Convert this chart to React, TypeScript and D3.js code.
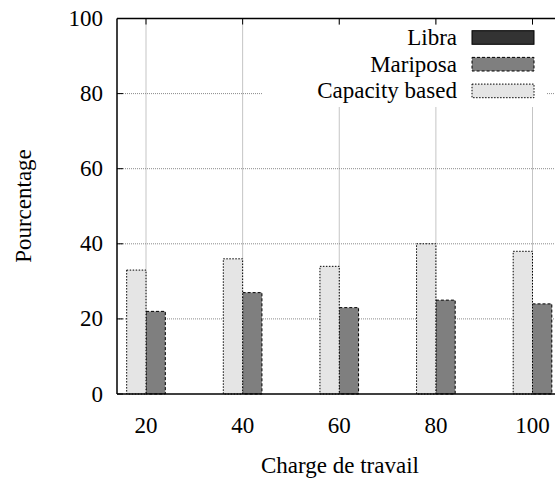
import React from "react";
import * as d3 from "d3";

const categories = [20, 40, 60, 80, 100];
const libra = [0, 0, 0, 0, 0];
const mariposa = [22, 27, 23, 25, 24];
const capacity = [33, 36, 34, 40, 38];
const yTicks = [0, 20, 40, 60, 80, 100];
const seriesNames = ["Libra", "Mariposa", "Capacity based"];

const W = 555;
const H = 480;
const FONT = "Liberation Serif, Times New Roman, Times, serif";

export default function App() {
  const left = 117;
  const top = 18.5;
  const bottom = 394;
  const right = 575;
  const x = d3.scaleLinear().domain([20, 100]).range([146, 532.5]);
  const y = d3.scaleLinear().domain([0, 100]).range([bottom, top]);
  const bw = (x(40) - x(20)) / 5;

  const styles = [
    { fill: "#333333", dash: undefined as string | undefined },
    { fill: "#7f7f7f", dash: "3,2" },
    { fill: "#e5e5e5", dash: "1.5,1.5" },
  ];
  const offsets = [bw, 0, -bw];
  const data = [libra, mariposa, capacity];

  const legendRows = [0, 1, 2].map((i) => 37.5 + i * 26.7);
  const ts: React.CSSProperties = { fontFamily: FONT, fontSize: "23px" };

  return (
    <svg
      width={W}
      height={H}
      style={{ position: "absolute", left: 0, top: 0, background: "#fff", fontFamily: FONT }}
    >
      <rect x={0} y={0} width={W} height={H} fill="#fff" />
      {yTicks.filter((t) => t > 0 && t < 100).map((t) => (
        <line key={"gy" + t} x1={left} x2={right} y1={y(t)} y2={y(t)} stroke="#8a8a8a" strokeWidth={1} strokeDasharray="1,1" />
      ))}
      {categories.map((c) => (
        <line key={"gx" + c} x1={x(c)} x2={x(c)} y1={top} y2={bottom} stroke="#8a8a8a" strokeWidth={1} strokeDasharray="1,1" />
      ))}
      <rect x={262} y={25} width={285} height={82} fill="#fff" />
      {data.map((vals, si) =>
        vals.map((v, i) => {
          const x0 = x(categories[i]) + offsets[si];
          const y0 = y(v);
          return (
            <rect
              key={si + "-" + i}
              x={x0}
              y={y0}
              width={bw}
              height={Math.max(0, bottom - y0)}
              fill={styles[si].fill}
              stroke="#000"
              strokeWidth={1}
              strokeDasharray={styles[si].dash}
            />
          );
        })
      )}
      <line x1={left} x2={left} y1={top} y2={bottom} stroke="#000" strokeWidth={1.5} />
      <line x1={left} x2={right} y1={bottom} y2={bottom} stroke="#000" strokeWidth={1.5} />
      <line x1={left} x2={right} y1={top} y2={top} stroke="#000" strokeWidth={1.5} />
      {yTicks.map((t) => (
        <g key={"yt" + t}>
          <line x1={left} x2={left + 6} y1={y(t)} y2={y(t)} stroke="#000" strokeWidth={1} />
          <text x={103} y={y(t)} textAnchor="end" dominantBaseline="central" style={ts} fill="#000">
            {t}
          </text>
        </g>
      ))}
      {categories.map((c) => (
        <g key={"xt" + c}>
          <line x1={x(c)} x2={x(c)} y1={top} y2={top + 6} stroke="#000" strokeWidth={1} />
          <text x={x(c)} y={433} textAnchor="middle" style={ts} fill="#000">
            {c}
          </text>
        </g>
      ))}
      {seriesNames.map((n, i) => (
        <g key={"lg" + i}>
          <text x={457} y={legendRows[i]} textAnchor="end" dominantBaseline="central" style={ts} fill="#000">
            {n}
          </text>
          <rect
            x={472}
            y={legendRows[i] - 6.8}
            width={62}
            height={13.6}
            fill={styles[i].fill}
            stroke="#000"
            strokeWidth={1}
            strokeDasharray={styles[i].dash}
          />
        </g>
      ))}
      <text x={340} y={473} textAnchor="middle" style={ts} fill="#000">
        Charge de travail
      </text>
      <text
        transform={`translate(23,206) rotate(-90)`}
        textAnchor="middle"
        dominantBaseline="central"
        style={ts}
        fill="#000"
      >
        Pourcentage
      </text>
    </svg>
  );
}
